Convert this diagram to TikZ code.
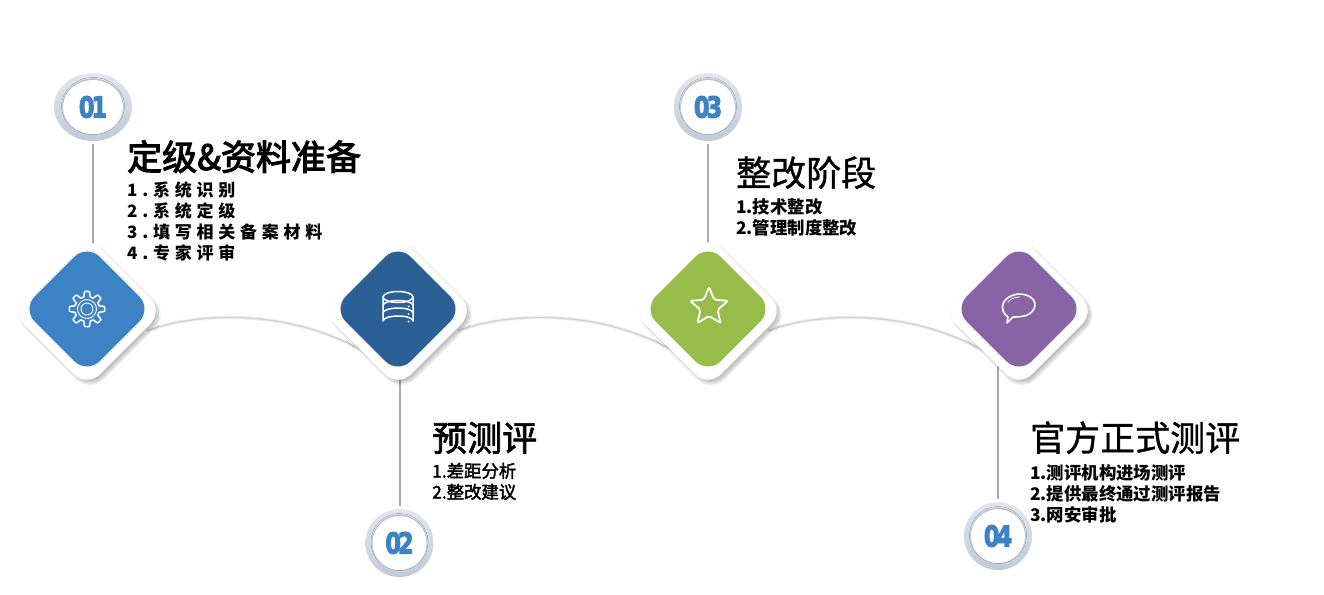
\documentclass[tikz,border=0pt]{standalone}
\usepackage{fontspec}
\setmainfont{Noto Sans CJK SC}
\newfontfamily\digitfont{DejaVu Sans Bold}
\usetikzlibrary{shapes.geometric,shadows.blur,backgrounds,calc}
\definecolor{cblue}{HTML}{3D82C4}
\definecolor{cnavy}{HTML}{2A6096}
\definecolor{cgreen}{HTML}{97BC4A}
\definecolor{cpurple}{HTML}{8863A6}
\definecolor{stemgray}{HTML}{ABABAB}
\definecolor{ringtop}{HTML}{E2E7EE}
\definecolor{ringbot}{HTML}{BFCAD9}
\tikzset{
  x=1pt,y=-1pt,
  halo/.style={shape=diamond,fill=white,draw=black!2,line width=.5pt,minimum width=152pt,minimum height=152pt,inner sep=0pt,rounded corners=18pt,
    blur shadow={shadow xshift=3pt,shadow yshift=-3.5pt,shadow blur radius=3pt,shadow opacity=26,shadow blur steps=8}},
  gem/.style={shape=diamond,fill=#1,minimum width=130pt,minimum height=130pt,inner sep=0pt,rounded corners=18pt},
  ring/.style={shape=ellipse,top color=ringtop,bottom color=ringbot,minimum width=#1,minimum height=68pt,inner sep=0pt},
  hole/.style={shape=ellipse,fill=white,minimum width=#1,minimum height=54pt,inner sep=0pt,text=cblue,
    font=\digitfont\fontsize{29}{29}\selectfont,
    blur shadow={shadow xshift=0pt,shadow yshift=1pt,shadow blur radius=1.5pt,shadow opacity=25,shadow blur steps=4}},
  stem/.style={draw=stemgray,line width=2pt,shorten <=3pt},
  glyph/.style={draw=white,line width=1.5pt,line join=round,line cap=round},
  headline/.style={anchor=base west,inner sep=0pt,font=\fontsize{35}{40}\selectfont},
  items/.style={anchor=base west,inner sep=0pt,align=left,font=\fontsize{17.4}{21}\selectfont},
}
\newcommand{\thicken}[2]{\special{pdf:code q 2 Tr #1 w}#2\special{pdf:code Q}}
\newcommand{\num}[2]{\scalebox{.78}[1]{\thicken{1.1}{#1\kern-4pt#2}}}
\newcommand{\hasharch}[1]{%
  \draw[draw=black!6,line width=3.5pt,yshift=1pt] #1;
  \draw[draw=black!18,line width=1.3pt,yshift=0pt] #1;
}
\begin{document}
\begin{tikzpicture}
\useasboundingbox (0,0) rectangle (1324,594);
% diamonds
\node[halo] (d1) at (87,311) {};
\node[gem=cblue] (g1) at (87,309) {};
\node[halo] (d2) at (398,311) {};
\node[gem=cnavy] (g2) at (398,309) {};
\node[halo] (d3) at (708,311) {};
\node[gem=cgreen] (g3) at (708,309) {};
\node[halo] (d4) at (1019,311) {};
\node[gem=cpurple] (g4) at (1019,309) {};
% number circles
\node[ring=78pt] (c1) at (93,107) {};
\node[hole=60pt] (h1) at (93,107) {\num{0}{1}};
\node[ring=68pt] (c2) at (399.5,543) {};
\node[hole=54pt] (h2) at (399.5,543) {\num{0}{2}};
\node[ring=68pt] (c3) at (708,107) {};
\node[hole=54pt] (h3) at (708,107) {\num{0}{3}};
\node[ring=68pt] (c4) at (998,536) {};
\node[hole=54pt] (h4) at (998,536) {\num{0}{4}};
% stems and arches behind
\begin{scope}[on background layer]
  \draw[stem] (c1.south) -- (c1.south |- d1);
  \draw[stem] (c2.north) -- (c2.north |- d2);
  \draw[stem] (c3.south) -- (c3.south |- d3);
  \draw[stem] (c4.north) -- (c4.north |- d4);
  \hasharch{($(d1)+(60,20)$) .. controls ($(d1)+(110,0)$) and ($(d1)+(220,-5)$) .. ($(d2)+(-11,56)$)}
  \hasharch{($(d2)+(60,20)$) .. controls ($(d2)+(110,0)$) and ($(d2)+(220,-5)$) .. ($(d3)+(-10,56)$)}
  \hasharch{($(d3)+(60,20)$) .. controls ($(d3)+(110,0)$) and ($(d3)+(220,-5)$) .. ($(d4)+(-11,56)$)}
\end{scope}
% gear
\begin{scope}[shift={(g1)}]
  \draw[glyph] plot[domain=0:360,samples=161,smooth cycle] (\x:{15+2.6*min(1,max(-1,2.2*cos(8*\x)))});
  \draw[draw=white,line width=.9pt] (0,0) circle (9.5) (0,0) circle (6);
\end{scope}
% database
\begin{scope}[shift={(g2)}]
  \draw[glyph] (0,-12) ellipse (15 and 5.5);
  \draw[glyph] (-15,-12) -- (-15,12) arc[start angle=180,end angle=360,x radius=15,y radius=5] -- (15,-12);
  \draw[glyph] (-15,-3.5) arc[start angle=180,end angle=360,x radius=15,y radius=5];
  \draw[glyph] (-15,4) arc[start angle=180,end angle=360,x radius=15,y radius=5];
  \fill[white] (10.5,-2.5) circle (1) (10.5,5) circle (1) (10.5,12.5) circle (1);
\end{scope}
% star
\node[shape=star,star points=5,star point ratio=2.25,minimum size=40pt,inner sep=0pt,glyph,line width=1.8pt,rounded corners=2pt] (i3) at (709,307) {};
% speech bubble
\draw[glyph,line width=1.6pt] ($(g4)+(-11,8)$) .. controls ($(g4)+(-20,2)$) and ($(g4)+(-19,-12)$) .. ($(g4)+(-1,-15)$) .. controls ($(g4)+(19,-15)$) and ($(g4)+(21,1)$) .. ($(g4)+(7,6.5)$) .. controls ($(g4)+(2,8)$) and ($(g4)+(-3,8)$) .. ($(g4)+(-6,8)$) -- ($(g4)+(-12,14)$) -- cycle;
\draw[draw=white,line width=.8pt,line cap=round] ($(g4)+(-11,-7)$) .. controls ($(g4)+(-8,-11)$) and ($(g4)+(-3,-12)$) .. ($(g4)+(1,-12)$);
% texts
\node[headline] (t1) at (127,170) {\thicken{1.1}{定级\&资料准备}};
\node[items,font=\bfseries\fontsize{17}{21}\selectfont\addfontfeature{LetterSpace=28}] (l1) at (127,259) {1.系统识别\\2.系统定级\\3.填写相关备案材料\\4.专家评审};
\node[headline] (t2) at (432,451) {\thicken{.7}{预测评}};
\node[items] (l2) at (432,498.5) {\thicken{.4}{1.差距分析}\\\thicken{.4}{2.整改建议}};
\node[headline] (t3) at (736,186) {\thicken{.35}{整改阶段}};
\node[items,font=\bfseries\fontsize{17.4}{21}\selectfont] (l3) at (736,234.5) {1.技术整改\\2.管理制度整改};
\node[headline] (t4) at (1030,451) {\thicken{.35}{官方正式测评}};
\node[items,font=\bfseries\fontsize{17.4}{21}\selectfont] (l4) at (1030,521.5) {1.测评机构进场测评\\2.提供最终通过测评报告\\3.网安审批};
\end{tikzpicture}
\end{document}
